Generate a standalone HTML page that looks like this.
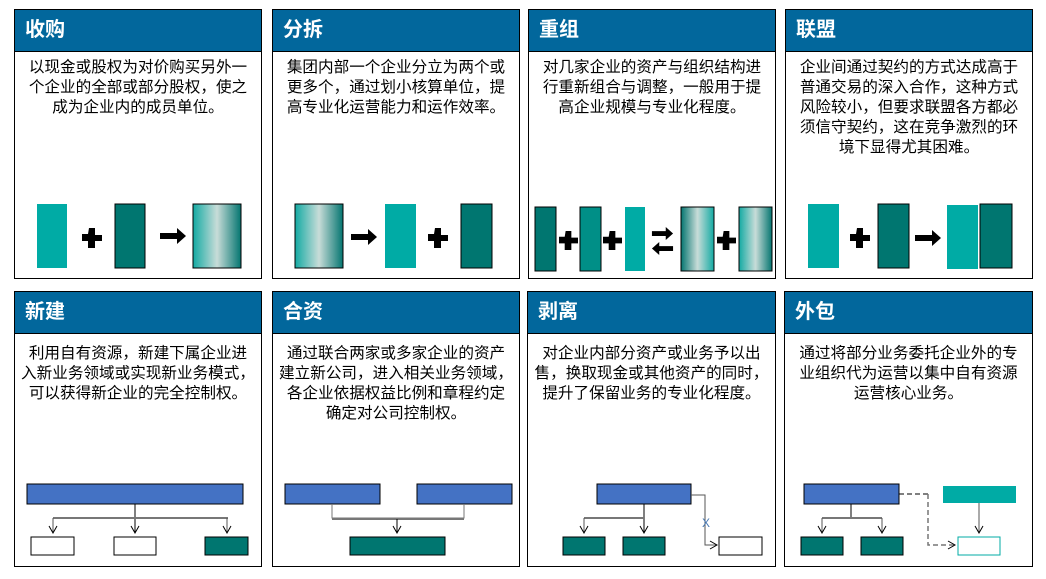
<!DOCTYPE html>
<html><head><meta charset="utf-8"><style>
body{margin:0;width:1046px;height:579px;background:#fff;position:relative;overflow:hidden;font-family:"Liberation Sans","Noto Sans CJK SC",sans-serif}
.p{position:absolute;border:1.5px solid #000;box-sizing:border-box;background:#fff}
.h{position:absolute;left:0;right:0;top:0;height:41px;background:#02679c;border-bottom:1px solid #000;color:#fff;font-weight:bold;font-size:20px;line-height:41px;padding-left:10px}
.t{position:absolute;left:-10px;right:-10px;top:48px;font-size:15.6px;line-height:20px;text-align:center;color:#000;white-space:nowrap}
.b .t{top:52px}
svg{position:absolute;left:0;top:0}
</style></head><body>
<div class="p" style="left:14px;top:9px;width:248px;height:270px"><div class="h">收购</div><div class="t">以现金或股权为对价购买另外一<br>个企业的全部或部分股权，使之<br>成为企业内的成员单位。</div></div>
<div class="p" style="left:272px;top:9px;width:248px;height:270px"><div class="h">分拆</div><div class="t">集团内部一个企业分立为两个或<br>更多个，通过划小核算单位，提<br>高专业化运营能力和运作效率。</div></div>
<div class="p" style="left:528px;top:9px;width:248px;height:270px"><div class="h">重组</div><div class="t">对几家企业的资产与组织结构进<br>行重新组合与调整，一般用于提<br>高企业规模与专业化程度。</div></div>
<div class="p" style="left:785px;top:9px;width:248px;height:270px"><div class="h">联盟</div><div class="t">企业间通过契约的方式达成高于<br>普通交易的深入合作，这种方式<br>风险较小，但要求联盟各方都必<br>须信守契约，这在竞争激烈的环<br>境下显得尤其困难。</div></div>
<div class="p b" style="left:14px;top:291px;width:248px;height:276px"><div class="h">新建</div><div class="t">利用自有资源，新建下属企业进<br>入新业务领域或实现新业务模式，<br>可以获得新企业的完全控制权。</div></div>
<div class="p b" style="left:272px;top:291px;width:248px;height:276px"><div class="h">合资</div><div class="t">通过联合两家或多家企业的资产<br>建立新公司，进入相关业务领域，<br>各企业依据权益比例和章程约定<br>确定对公司控制权。</div></div>
<div class="p b" style="left:527px;top:291px;width:249px;height:276px"><div class="h">剥离</div><div class="t">对企业内部分资产或业务予以出<br>售，换取现金或其他资产的同时，<br>提升了保留业务的专业化程度。</div></div>
<div class="p b" style="left:784px;top:291px;width:249px;height:276px"><div class="h">外包</div><div class="t">通过将部分业务委托企业外的专<br>业组织代为运营以集中自有资源<br>运营核心业务。</div></div>
<svg width="1046" height="579">
<defs>
<linearGradient id="g" x1="0" x2="1"><stop offset="0" stop-color="#13aaa3"/><stop offset=".5" stop-color="#c8dcd8"/><stop offset="1" stop-color="#047570"/></linearGradient>
<linearGradient id="g2" x1="0" x2="1"><stop offset="0" stop-color="#047570"/><stop offset=".5" stop-color="#c8dcd8"/><stop offset="1" stop-color="#13aaa3"/></linearGradient>
<marker id="a" markerWidth="10" markerHeight="10" refX="8" refY="5" orient="auto" markerUnits="userSpaceOnUse"><path d="M1,1 L8,5 L1,9" fill="none" stroke="#000" stroke-width="1"/></marker>
<symbol id="plus" viewBox="0 0 20 20"><path d="M7,0h6v7h7v6h-7v7h-7v-7h-7v-7h7z" fill="#000"/></symbol>
<symbol id="arr" viewBox="0 0 26 16"><path d="M0,5h17v-5l9,8l-9,8v-5h-17z" fill="#000"/></symbol>
</defs>
<g stroke="#000" stroke-width="1">
<rect x="37" y="204" width="30" height="64" fill="#00aba5" stroke="none"/>
<rect x="115" y="204" width="30" height="64" fill="#007670"/>
<rect x="193" y="204" width="48" height="64" fill="url(#g)"/>
<rect x="295" y="204" width="48" height="64" fill="url(#g)"/>
<rect x="385" y="204" width="31" height="64" fill="#00aba5" stroke="none"/>
<rect x="461" y="204" width="31" height="64" fill="#007670"/>
<rect x="535" y="207" width="21" height="64" fill="#007670"/>
<rect x="580" y="207" width="21" height="64" fill="#008f87"/>
<rect x="625" y="207" width="20" height="64" fill="#00aba5" stroke="none"/>
<rect x="681" y="207" width="33" height="64" fill="url(#g2)"/>
<rect x="739" y="207" width="33" height="64" fill="url(#g)"/>
<rect x="808" y="204" width="31" height="64" fill="#00aba5" stroke="none"/>
<rect x="878" y="204" width="31" height="64" fill="#007670"/>
<rect x="947" y="205" width="31" height="64" fill="#00aba5" stroke="none"/>
<rect x="980" y="204" width="32" height="64" fill="#007670"/>
</g>
<use href="#plus" x="82" y="228" width="20" height="20"/>
<use href="#plus" x="428" y="228" width="20" height="20"/>
<use href="#plus" x="559" y="231" width="19" height="19"/>
<use href="#plus" x="603" y="231" width="19" height="19"/>
<use href="#plus" x="717" y="231" width="19" height="19"/>
<use href="#plus" x="850" y="228" width="20" height="20"/>
<use href="#arr" x="160" y="228" width="26" height="16"/>
<use href="#arr" x="351" y="229" width="26" height="16"/>
<use href="#arr" x="650" y="227" width="25" height="13"/>
<use href="#arr" x="650" y="242" width="25" height="13" transform="rotate(180 662.5 248.5)"/>
<use href="#arr" x="915" y="230" width="26" height="16"/>
<g stroke="#000" stroke-width="1">
<rect x="27" y="484" width="216" height="20" fill="#4472c4"/>
<rect x="31" y="537" width="43" height="18" fill="#fff"/>
<rect x="114" y="537" width="42" height="18" fill="#fff"/>
<rect x="205" y="537" width="43" height="18" fill="#007670"/>
<rect x="285" y="484" width="95" height="20" fill="#4472c4"/>
<rect x="417" y="484" width="95" height="20" fill="#4472c4"/>
<rect x="350" y="537" width="95" height="18" fill="#007670"/>
<rect x="597" y="484" width="94" height="20" fill="#4472c4"/>
<rect x="563" y="537" width="42" height="18" fill="#007670"/>
<rect x="623" y="537" width="42" height="18" fill="#007670"/>
<rect x="719" y="537" width="43" height="18" fill="#fff"/>
<rect x="804" y="484" width="95" height="20" fill="#4472c4"/>
<rect x="801" y="537" width="42" height="18" fill="#007670"/>
<rect x="861" y="537" width="42" height="18" fill="#007670"/>
<rect x="943" y="486" width="73" height="17" fill="#00aba5" stroke="none"/>
<rect x="958" y="537" width="42" height="18" fill="#fff" stroke="#00aba5"/>
</g>
<g fill="none" stroke-width="1">
<path d="M135,504V533" stroke="#000" marker-end="url(#a)"/>
<path d="M53,518H228" stroke="#777" stroke-width="2"/>
<path d="M53,518V533" stroke="#555" marker-end="url(#a)"/>
<path d="M227,518V533" stroke="#555" marker-end="url(#a)"/>
<path d="M332,504V518H464V504" stroke="#777"/>
<path d="M332,519H464" stroke="#777" stroke-width="2"/>
<path d="M397,519V533" stroke="#000" marker-end="url(#a)"/>
<path d="M644,504V533" stroke="#000" marker-end="url(#a)"/>
<path d="M584,518H644" stroke="#777" stroke-width="2"/>
<path d="M584,518V533" stroke="#555" marker-end="url(#a)"/>
<path d="M691,495H705V545H717" stroke="#555" marker-end="url(#a)"/>
<text x="702" y="527" font-size="12" fill="#4a7ab5" font-family="Liberation Sans">X</text>
<path d="M851,504V518" stroke="#000"/>
<path d="M822,518H882" stroke="#777" stroke-width="2"/>
<path d="M822,518V533" stroke="#555" marker-end="url(#a)"/>
<path d="M882,518V533" stroke="#555" marker-end="url(#a)"/>
<path d="M899,494H928" stroke="#000" stroke-dasharray="5,3"/>
<path d="M928,494V545H955" stroke="#777" stroke-width="1.5" stroke-dasharray="5,3" marker-end="url(#a)"/>
<path d="M979,503V533" stroke="#555" marker-end="url(#a)"/>
</g>
</svg>
</body></html>
